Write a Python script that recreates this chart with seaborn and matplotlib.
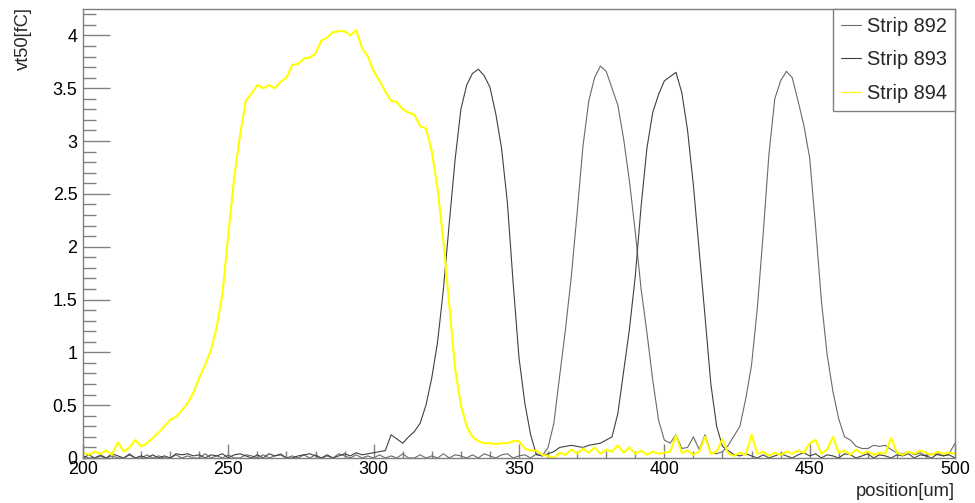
import numpy as np
import pandas as pd
import matplotlib
matplotlib.use("Agg")
import matplotlib.pyplot as plt
from matplotlib.ticker import MultipleLocator, FuncFormatter
import seaborn as sns

# ---- data (bin centres every 2 um) ----
pos_start, pos_stop, pos_step = 200, 500, 2
position_um = np.arange(pos_start, pos_stop + pos_step, pos_step)

strip_892 = [
    0.02, 0.00, 0.00, 0.03, 0.00, 0.02, 0.00, 0.00, 0.04, 0.00,
    0.00, 0.03, 0.00, 0.02, 0.00, 0.00, 0.03, 0.00, 0.02, 0.00,
    0.00, 0.04, 0.00, 0.02, 0.00, 0.03, 0.00, 0.00, 0.03, 0.02,
    0.00, 0.03, 0.00, 0.02, 0.04, 0.00, 0.02, 0.00, 0.03, 0.00,
    0.03, 0.00, 0.02, 0.00, 0.04, 0.02, 0.00, 0.03, 0.00, 0.02,
    0.00, 0.03, 0.00, 0.02, 0.00, 0.04, 0.00, 0.00, 0.03, 0.00,
    0.02, 0.00, 0.04, 0.00, 0.03, 0.02, 0.00, 0.03, 0.00, 0.04,
    0.02, 0.00, 0.03, 0.04, 0.00, 0.02, 0.03, 0.00, 0.04, 0.02,
    0.10, 0.33, 0.78, 1.22, 1.72, 2.32, 2.95, 3.38, 3.60, 3.71,
    3.66, 3.50, 3.34, 3.02, 2.62, 2.14, 1.60, 1.19, 0.74, 0.36,
    0.17, 0.14, 0.22, 0.09, 0.10, 0.20, 0.08, 0.22, 0.05, 0.04,
    0.06, 0.12, 0.21, 0.30, 0.56, 0.88, 1.42, 2.12, 2.88, 3.40,
    3.57, 3.66, 3.60, 3.38, 3.15, 2.84, 2.20, 1.50, 0.98, 0.63,
    0.37, 0.20, 0.17, 0.11, 0.09, 0.09, 0.12, 0.11, 0.12, 0.08,
    0.05, 0.04, 0.06, 0.03, 0.05, 0.02, 0.04, 0.03, 0.02, 0.04,
    0.14,
]

strip_893 = [
    0.00, 0.03, 0.00, 0.02, 0.00, 0.04, 0.02, 0.00, 0.03, 0.00,
    0.02, 0.00, 0.03, 0.00, 0.02, 0.00, 0.04, 0.03, 0.04, 0.02,
    0.03, 0.00, 0.03, 0.02, 0.04, 0.00, 0.03, 0.04, 0.02, 0.00,
    0.03, 0.00, 0.04, 0.02, 0.03, 0.00, 0.00, 0.02, 0.03, 0.04,
    0.02, 0.00, 0.03, 0.00, 0.02, 0.04, 0.02, 0.05, 0.03, 0.04,
    0.05, 0.06, 0.07, 0.22, 0.18, 0.14, 0.20, 0.25, 0.33, 0.50,
    0.76, 1.10, 1.60, 2.22, 2.82, 3.30, 3.53, 3.64, 3.68, 3.62,
    3.51, 3.26, 2.93, 2.42, 1.65, 0.95, 0.52, 0.22, 0.03, 0.02,
    0.04, 0.06, 0.10, 0.11, 0.12, 0.11, 0.10, 0.12, 0.13, 0.14,
    0.17, 0.20, 0.42, 0.82, 1.22, 1.72, 2.38, 2.93, 3.27, 3.44,
    3.57, 3.61, 3.65, 3.46, 3.10, 2.58, 1.96, 1.34, 0.70, 0.30,
    0.11, 0.07, 0.03, 0.02, 0.04, 0.02, 0.00, 0.03, 0.00, 0.02,
    0.04, 0.02, 0.00, 0.03, 0.05, 0.02, 0.04, 0.00, 0.03, 0.02,
    0.00, 0.04, 0.03, 0.00, 0.02, 0.04, 0.00, 0.03, 0.02, 0.00,
    0.03, 0.02, 0.04, 0.00, 0.03, 0.02, 0.00, 0.04, 0.02, 0.03,
    0.00,
]

strip_894 = [
    0.05, 0.03, 0.06, 0.04, 0.07, 0.03, 0.15, 0.06, 0.10, 0.17,
    0.11, 0.14, 0.19, 0.24, 0.30, 0.36, 0.39, 0.45, 0.52, 0.62,
    0.76, 0.88, 1.02, 1.24, 1.56, 2.12, 2.65, 3.05, 3.38, 3.45,
    3.53, 3.50, 3.53, 3.50, 3.56, 3.60, 3.72, 3.73, 3.78, 3.79,
    3.83, 3.95, 3.98, 4.03, 4.04, 4.04, 4.00, 4.05, 3.88, 3.80,
    3.66, 3.57, 3.47, 3.38, 3.37, 3.30, 3.27, 3.25, 3.14, 3.12,
    2.90, 2.55, 2.05, 1.45, 0.85, 0.50, 0.30, 0.20, 0.16, 0.14,
    0.14, 0.13, 0.14, 0.14, 0.16, 0.16, 0.09, 0.07, 0.07, 0.03,
    0.02, 0.00, 0.05, 0.03, 0.08, 0.04, 0.09, 0.05, 0.10, 0.04,
    0.08, 0.06, 0.12, 0.05, 0.10, 0.04, 0.07, 0.03, 0.06, 0.04,
    0.05, 0.06, 0.21, 0.05, 0.07, 0.03, 0.06, 0.20, 0.04, 0.06,
    0.18, 0.04, 0.02, 0.05, 0.03, 0.22, 0.04, 0.06, 0.02, 0.05,
    0.03, 0.06, 0.04, 0.07, 0.05, 0.14, 0.17, 0.04, 0.08, 0.20,
    0.05, 0.07, 0.03, 0.08, 0.04, 0.06, 0.03, 0.05, 0.04, 0.19,
    0.05, 0.03, 0.06, 0.04, 0.07, 0.05, 0.03, 0.06, 0.04, 0.05,
    0.04,
]

strip_labels = ["Strip 892", "Strip 893", "Strip 894"]
series = [strip_892, strip_893, strip_894]
x_label = "position[um]"
y_label = "vt50[fC]"

df = pd.concat(
    [pd.DataFrame({"position": position_um, "vt50": vals, "strip": lab})
     for lab, vals in zip(strip_labels, series)],
    ignore_index=True,
)

# ---- style ----
sns.set_theme(style="white")
plt.rcParams["font.family"] = ["Liberation Sans", "DejaVu Sans"]

colors = {"Strip 892": "#6a6a6a", "Strip 893": "#404040", "Strip 894": "#ffff00"}
widths = {"Strip 892": 0.8, "Strip 893": 0.8, "Strip 894": 1.5}

fig = plt.figure(figsize=(9.75, 5.03), dpi=100)
ax = fig.add_axes([83 / 975, 45 / 503, 872 / 975, 449 / 503])

for lab in strip_labels:
    sub = df[df["strip"] == lab]
    sns.lineplot(data=sub, x="position", y="vt50", ax=ax, color=colors[lab],
                 linewidth=widths[lab], label=lab, sort=True,
                 estimator=None, errorbar=None)

ax.set_xlim(200, 500)
ax.set_ylim(0, 4.25)

frame_c = "#808080"
for side, sp in ax.spines.items():
    sp.set_visible(True)
    sp.set_color(frame_c)
    sp.set_linewidth(1.0)

ax.xaxis.set_major_locator(MultipleLocator(50))
ax.xaxis.set_minor_locator(MultipleLocator(10))
ax.yaxis.set_major_locator(MultipleLocator(0.5))
ax.yaxis.set_minor_locator(MultipleLocator(0.1))
ax.yaxis.set_major_formatter(FuncFormatter(lambda v, p: f"{v:g}"))

ax.tick_params(axis="x", which="both", direction="in", bottom=True, top=False,
               colors=frame_c, labelcolor="black", labelsize=12.9, width=1.0)
ax.tick_params(axis="x", which="major", length=10, pad=2)
ax.tick_params(axis="x", which="minor", length=5)
ax.tick_params(axis="y", which="both", direction="in", left=True, right=False,
               colors=frame_c, labelcolor="black", labelsize=12.9, width=1.0)
ax.tick_params(axis="y", which="major", length=19.5, pad=4)
ax.tick_params(axis="y", which="minor", length=9.7)

ax.set_xlabel(x_label, fontsize=13.2, loc="right")
ax.xaxis.set_label_coords(1.0, -0.056)
ax.set_ylabel(y_label, fontsize=13.2, loc="top")
ax.yaxis.set_label_coords(-0.058, 1.005)

leg = ax.legend(loc="upper right", bbox_to_anchor=(1.0, 1.0), borderaxespad=0,
                frameon=True, fancybox=False, shadow=False, fontsize=14.4,
                handlelength=1.0, handletextpad=0.3, borderpad=0.4,
                labelspacing=0.72)
frame = leg.get_frame()
frame.set_edgecolor(frame_c)
frame.set_linewidth(1.0)
frame.set_facecolor("white")
frame.set_alpha(1.0)
for h in leg.get_lines():
    h.set_linewidth(0.8)

fig.savefig("out.png", dpi=100)
